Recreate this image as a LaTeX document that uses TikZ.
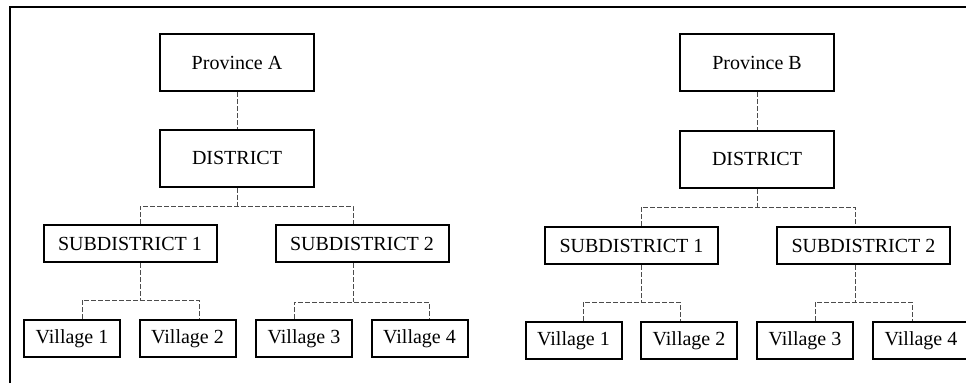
\documentclass[tikz,border=0pt]{standalone}
\usepackage{fontspec}
\setmainfont{Liberation Serif}
\tikzset{
    unitbox/.style={draw, line width=2pt, inner sep=0pt, font=\fontsize{20}{22}\selectfont},
    provbox/.style={unitbox, minimum width=154pt, minimum height=57pt},
    subbox/.style={unitbox, minimum width=173pt, minimum height=37pt},
    villbox/.style={unitbox, minimum width=96pt, minimum height=37pt},
    link/.style={black!70, line width=0.8pt, dash pattern=on 5pt off 2pt}
}
\begin{document}
\begin{tikzpicture}[x=1pt, y=-1pt]
    \useasboundingbox (0,0) rectangle (966,383);
    % Frame (only top and left edges show)
    \draw[line width=2pt] (10,383) -- (10,7) -- (966,7);

    % Province A tree
    \node[provbox] (provA) at (237,62.5) {Province A};
    \node[provbox] (distA) at (237,158) {DISTRICT};
    \node[subbox] (subA1) at (130,243.5) {SUBDISTRICT 1};
    \node[subbox] (subA2) at (362,243.5) {SUBDISTRICT 2};
    \node[villbox] (vilA1) at (72,338.5) {Village 1};
    \node[villbox] (vilA2) at (187.5,338.5) {Village 2};
    \node[villbox] (vilA3) at (304,338.5) {Village 3};
    \node[villbox] (vilA4) at (419.5,338.5) {Village 4};

    % Province B tree
    \node[provbox] (provB) at (757,62.5) {Province B};
    \node[provbox] (distB) at (757,159) {DISTRICT};
    \node[subbox] (subB1) at (631.5,245.5) {SUBDISTRICT 1};
    \node[subbox] (subB2) at (863.5,245.5) {SUBDISTRICT 2};
    \node[villbox] (vilB1) at (573.5,340.5) {Village 1};
    \node[villbox] (vilB2) at (689,340.5) {Village 2};
    \node[villbox] (vilB3) at (805,340.5) {Village 3};
    \node[villbox] (vilB4) at (921,340.5) {Village 4};

    % Branch points
    \coordinate (jA)  at (237,206);
    \coordinate (jA1) at (140,206);
    \coordinate (jA2) at (353,206);
    \coordinate (kA1) at (140,300);
    \coordinate (kA2) at (353,302);
    \coordinate (jB)  at (757,207);
    \coordinate (jB1) at (641,207);
    \coordinate (jB2) at (855,207);
    \coordinate (kB1) at (641,302);
    \coordinate (kB2) at (855,302);

    % Links A
    \draw[link] (provA) -- (distA);
    \draw[link] (distA) -- (jA);
    \draw[link] (jA1 |- subA1.north) -- (jA1) -- (jA2) -- (jA2 |- subA2.north);
    \draw[link] (jA1 |- subA1.south) -- (kA1);
    \draw[link] (jA2 |- subA2.south) -- (kA2);
    \draw[link] (82,0 |- vilA1.north) -- (82,300) -- (199,300) -- (199,0 |- vilA2.north);
    \draw[link] (294,0 |- vilA3.north) -- (294,302) -- (429,302) -- (429,0 |- vilA4.north);

    % Links B
    \draw[link] (provB) -- (distB);
    \draw[link] (distB) -- (jB);
    \draw[link] (jB1 |- subB1.north) -- (jB1) -- (jB2) -- (jB2 |- subB2.north);
    \draw[link] (jB1 |- subB1.south) -- (kB1);
    \draw[link] (jB2 |- subB2.south) -- (kB2);
    \draw[link] (583,0 |- vilB1.north) -- (583,302) -- (680,302) -- (680,0 |- vilB2.north);
    \draw[link] (815,0 |- vilB3.north) -- (815,302) -- (912,302) -- (912,0 |- vilB4.north);
\end{tikzpicture}
\end{document}
